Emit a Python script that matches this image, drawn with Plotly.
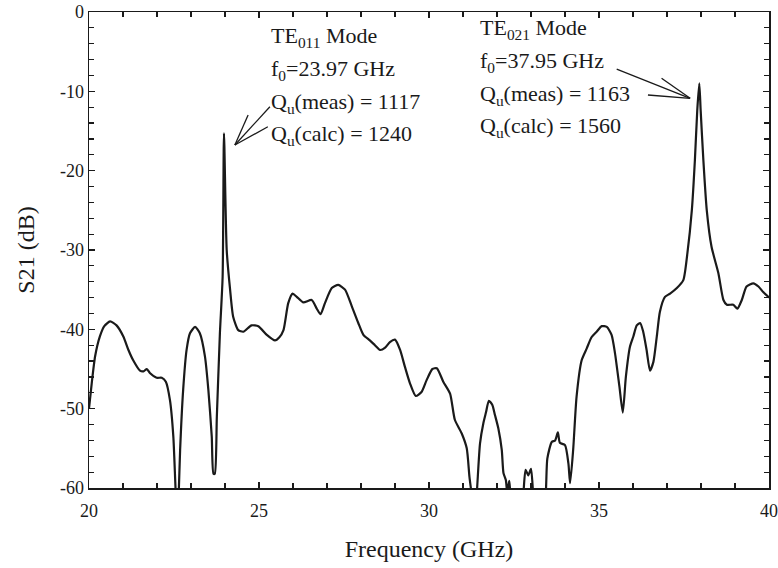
import plotly.graph_objects as go

freq_ghz = [20.00, 20.08, 20.18, 20.32, 20.45, 20.62, 20.81, 21.01, 21.16, 21.30,
            21.50, 21.60, 21.70, 21.79, 21.99, 22.14, 22.26, 22.38, 22.48, 22.55,
            22.60, 22.64, 22.68, 22.77, 22.87, 22.97, 23.12, 23.26, 23.41, 23.51,
            23.61, 23.66, 23.70, 23.76, 23.85, 23.93, 23.97, 24.05, 24.15, 24.24,
            24.39, 24.54, 24.78, 24.98, 25.23, 25.47, 25.60, 25.72, 25.86, 25.99,
            26.11, 26.30, 26.55, 26.70, 26.81, 26.94, 27.14, 27.33, 27.53, 27.73,
            27.92, 28.07, 28.26, 28.41, 28.56, 28.71, 28.85, 29.00, 29.15, 29.29,
            29.44, 29.61, 29.78, 29.93, 30.10, 30.23, 30.42, 30.62, 30.76, 30.96,
            31.11, 31.19, 31.26, 31.33, 31.40, 31.50, 31.60, 31.68, 31.76, 31.86,
            31.94, 32.04, 32.14, 32.19, 32.26, 32.30, 32.36, 32.40, 32.60, 32.77,
            32.84, 32.92, 33.00, 33.07, 33.25, 33.43, 33.48, 33.61, 33.71, 33.79,
            33.85, 34.00, 34.10, 34.15, 34.24, 34.34, 34.49, 34.64, 34.78, 34.93,
            35.08, 35.23, 35.37, 35.47, 35.60, 35.70, 35.79, 35.91, 36.01, 36.11,
            36.21, 36.30, 36.40, 36.50, 36.60, 36.70, 36.79, 36.94, 37.09, 37.29,
            37.48, 37.60, 37.73, 37.82, 37.89, 37.95, 37.99, 38.07, 38.17, 38.31,
            38.51, 38.66, 38.76, 38.95, 39.07, 39.20, 39.34, 39.54, 39.69, 39.83,
            40.00]
s21_db = [-50.0, -46.8, -43.4, -40.9, -39.6, -39.0, -39.5, -40.9, -42.6, -43.9,
          -45.2, -45.3, -45.0, -45.5, -46.1, -46.1, -46.6, -48.9, -53.5, -60.5,
          -64.0, -60.5, -55.2, -47.6, -42.6, -40.5, -39.7, -40.5, -43.4, -47.6,
          -53.5, -58.2, -58.2, -51.0, -40.5, -33.4, -15.3, -30.0, -35.0, -38.4,
          -40.1, -40.3, -39.5, -39.6, -40.7, -41.4, -41.0, -40.1, -36.7, -35.5,
          -35.9, -36.6, -36.3, -37.4, -38.1, -36.7, -34.8, -34.4, -35.0, -37.1,
          -39.2, -40.7, -41.4, -42.0, -42.6, -42.3, -41.6, -41.3, -42.6, -44.7,
          -46.8, -48.4, -47.9, -46.4, -45.0, -44.9, -46.6, -48.1, -51.4, -53.1,
          -55.0, -58.6, -61.0, -64.0, -61.0, -54.4, -51.8, -50.4, -49.0, -49.5,
          -50.8, -52.5, -55.2, -58.1, -59.0, -60.5, -59.1, -61.0, -66.0, -61.0,
          -57.7, -58.4, -57.6, -61.0, -66.0, -61.0, -56.3, -54.2, -54.0, -53.0,
          -54.3, -54.6, -56.9, -59.4, -55.2, -48.5, -43.9, -42.4, -41.0, -40.3,
          -39.6, -39.7, -40.7, -43.0, -47.2, -50.5, -46.0, -42.2, -40.9, -39.5,
          -39.2, -40.3, -42.6, -45.2, -44.1, -40.9, -37.8, -35.9, -35.5, -34.8,
          -33.8, -30.4, -25.0, -18.7, -12.4, -9.0, -12.4, -18.7, -25.0, -29.6,
          -32.9, -36.3, -36.9, -36.9, -37.4, -36.3, -34.6, -34.2, -34.6, -35.3,
          -36.0]

x_tickvals = [20, 25, 30, 35, 40]
x_ticktext = ["20", "25", "30", "35", "40"]
y_tickvals = [0, -10, -20, -30, -40, -50, -60]
y_ticktext = ["0", "-10", "-20", "-30", "-40", "-50", "-60"]

te011_lines = ["TE<sub>011</sub> Mode", "f<sub>0</sub>=23.97 GHz",
               "Q<sub>u</sub>(meas) = 1117", "Q<sub>u</sub>(calc) = 1240"]
te021_lines = ["TE<sub>021</sub> Mode", "f<sub>0</sub>=37.95 GHz",
               "Q<sub>u</sub>(meas) = 1163", "Q<sub>u</sub>(calc) = 1560"]

FONT = "Liberation Serif"
INK = "#1a1a1a"

fig = go.Figure()
fig.add_trace(go.Scatter(x=freq_ghz, y=s21_db, mode="lines",
                         line=dict(color=INK, width=2.2, shape="spline", smoothing=0.6),
                         showlegend=False, hoverinfo="skip"))

annotations = []
te011_y = [-3.2, -7.3, -11.5, -15.5]
te021_y = [-2.2, -6.3, -10.5, -14.5]
for txt, yy in zip(te011_lines, te011_y):
    annotations.append(dict(x=25.3, y=yy, xref="x", yref="y", text=txt,
                            showarrow=False, xanchor="left", yanchor="middle",
                            font=dict(family=FONT, size=22, color=INK)))
for txt, yy in zip(te021_lines, te021_y):
    annotations.append(dict(x=31.45, y=yy, xref="x", yref="y", text=txt,
                            showarrow=False, xanchor="left", yanchor="middle",
                            font=dict(family=FONT, size=22, color=INK)))

shapes = []
pointers = [
    ((24.29, -16.77), [(25.32, -11.94), (24.68, -12.98), (25.26, -14.46)]),
    ((37.68, -10.88), [(35.52, -7.19), (36.84, -8.36), (36.44, -10.46)]),
]
for (tx, ty), starts in pointers:
    for sx, sy in starts:
        shapes.append(dict(type="line", xref="x", yref="y", x0=sx, y0=sy,
                           x1=tx, y1=ty, line=dict(color=INK, width=1.3)))

axis_common = dict(showline=True, linecolor=INK, linewidth=1.5,
                   mirror="ticks", ticks="inside", ticklen=6, tickwidth=1.3,
                   tickcolor=INK, showgrid=False, zeroline=False, automargin=False,
                   tickfont=dict(family=FONT, size=18, color=INK))

fig.update_layout(
    width=778, height=568,
    margin=dict(l=89, r=9, t=12, b=80),
    paper_bgcolor="white", plot_bgcolor="white",
    font=dict(family=FONT, color=INK),
    xaxis=dict(range=[20, 40], tickmode="array", tickvals=x_tickvals, ticktext=x_ticktext,
               ticklabelstandoff=6,
               minor=dict(dtick=1, tick0=20, ticks="inside", ticklen=5, tickcolor=INK, tickwidth=1.2),
               title=dict(text="Frequency (GHz)", font=dict(family=FONT, size=24, color=INK),
                          standoff=20),
               **axis_common),
    yaxis=dict(range=[-60, 0], tickmode="array", tickvals=y_tickvals, ticktext=y_ticktext,
               minor=dict(dtick=2, tick0=0, ticks="inside", ticklen=5, tickcolor=INK, tickwidth=1.2),
               title=dict(text="S21 (dB)", font=dict(family=FONT, size=24, color=INK),
                          standoff=18),
               **axis_common),
    annotations=annotations,
    shapes=shapes,
)

fig.write_html("out.html",
               config={"displayModeBar": False, "staticPlot": True},
               post_script="document.body.style.margin='0';document.body.style.overflow='hidden';")
